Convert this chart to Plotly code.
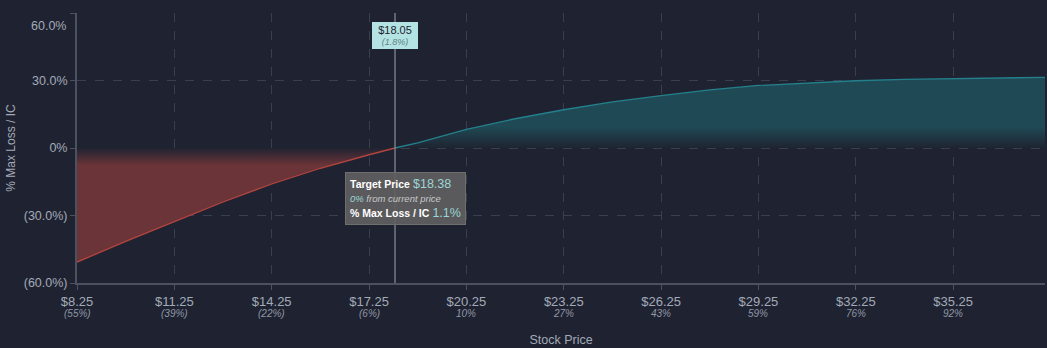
import plotly.graph_objects as go

# ---- data ----
loss_x = [8.25, 9.75, 11.25, 12.75, 14.25, 15.75, 17.25, 18.05]
loss_y = [-50.7, -41.5, -32.7, -24.0, -16.0, -9.0, -3.0, 0.0]
gain_x = [18.05, 18.75, 20.25, 21.75, 23.25, 24.75, 26.25, 27.75, 29.25, 30.75, 32.25, 33.75, 35.25, 36.75, 38.08]
gain_y = [0.0, 2.3, 8.3, 13.0, 17.0, 20.5, 23.3, 25.8, 27.8, 29.0, 29.9, 30.5, 30.9, 31.2, 31.4]

x_ticks = [8.25, 11.25, 14.25, 17.25, 20.25, 23.25, 26.25, 29.25, 32.25, 35.25]
x_tick_main = ["$8.25", "$11.25", "$14.25", "$17.25", "$20.25", "$23.25", "$26.25", "$29.25", "$32.25", "$35.25"]
x_tick_sub = ["(55%)", "(39%)", "(22%)", "(6%)", "10%", "27%", "43%", "59%", "76%", "92%"]
y_ticks = [60, 30, 0, -30, -60]
y_tick_labels = ["60.0%", "30.0%", "0%", "(30.0%)", "(60.0%)"]

current_price = 18.05
current_change = "(1.8%)"
target_price = "$18.38"
target_change = "0%"
target_value = "1.1%"

BG = "#1f2331"
GRID = "#3a3f4f"
TXT = "#a3aab8"
FONT = "Liberation Sans, Arial, sans-serif"

ML, MR, MT, MB = 77, 2, 13, 65
W, H = 1047, 348
PW, PH = W - ML - MR, H - MT - MB

fig = go.Figure()

fig.add_trace(go.Scatter(
    x=loss_x, y=loss_y, mode="lines",
    line=dict(color="#b3443f", width=1.3),
    fill="tozeroy",
    fillgradient=dict(type="vertical",
                      colorscale=[[0, "rgba(31,35,49,1)"], [1, "rgba(106,52,56,1)"]],
                      start=0, stop=-7.5),
    hoverinfo="skip", showlegend=False,
))
fig.add_trace(go.Scatter(
    x=gain_x, y=gain_y, mode="lines",
    line=dict(color="#23808c", width=1.3),
    fill="tozeroy",
    fillgradient=dict(type="vertical",
                      colorscale=[[0, "rgba(31,35,49,1)"], [1, "rgba(31,74,85,1)"]],
                      start=0, stop=9.5),
    hoverinfo="skip", showlegend=False,
))

fig.update_layout(
    width=W, height=H,
    margin=dict(l=ML, r=MR, t=MT, b=MB),
    paper_bgcolor=BG, plot_bgcolor=BG,
    font=dict(family=FONT, color=TXT, size=12),
    xaxis=dict(
        range=[8.25, 38.08], tickvals=x_ticks, ticktext=x_tick_main,
        showgrid=True, gridcolor=GRID, griddash="dash", gridwidth=1,
        showline=True, linecolor="#4c5160", linewidth=2,
        ticks="outside", ticklen=5, tickcolor="#4c5160",
        tickfont=dict(size=13, color=TXT),
        title=dict(text="Stock Price", font=dict(size=12.5, color=TXT), standoff=28),
        zeroline=False, fixedrange=True,
    ),
    yaxis=dict(
        range=[-60, 60], tickvals=y_ticks,
        ticktext=[""] + y_tick_labels[1:],
        showgrid=True, gridcolor=GRID, griddash="dash", gridwidth=1,
        showline=True, linecolor="#4c5160", linewidth=2,
        ticks="outside", ticklen=5, tickcolor="#4c5160",
        tickfont=dict(size=12.5, color=TXT),
        title=dict(text="% Max Loss / IC", font=dict(size=12, color=TXT), standoff=6),
        zeroline=False, fixedrange=True,
    ),
)

# sub tick labels (percent from current price)
for xv, s in zip(x_ticks, x_tick_sub):
    fig.add_annotation(x=xv, xref="x", y=0, yref="paper", text=f"<i>{s}</i>",
                       showarrow=False, yanchor="top", yshift=-23,
                       font=dict(size=10, color="#8f97a6"))

# top y label pushed down like reference
fig.add_annotation(x=0, xref="paper", y=60, yref="y", text=y_tick_labels[0],
                   showarrow=False, xanchor="right", yanchor="top", xshift=-9, yshift=-4,
                   font=dict(size=12.5, color=TXT))

# current price vertical line
fig.add_shape(type="line", x0=current_price, x1=current_price, y0=-60, y1=60,
              xref="x", yref="y", line=dict(color="#8a909c", width=1.2))
fig.add_annotation(x=current_price, y=60, xref="x", yref="y",
                   text=f"<span style='font-size:11px'>${current_price:.2f}</span><br>"
                        f"<i><span style='font-size:9px;color:#5f8585'>{current_change}</span></i>",
                   showarrow=False, yanchor="top", yshift=-9,
                   width=41, height=22,
                   bgcolor="#b3e3e2", bordercolor="#b3e3e2", borderpad=1.5,
                   font=dict(color="#1f2331", size=9))

# tooltip box
fig.add_annotation(x=(345 - ML) / PW, y=1 - (172 - MT) / PH, xref="paper", yref="paper",
                   text=(f"<span style='color:#ffffff;font-size:10.5px'><b>Target Price</b></span> "
                         f"<span style='color:#9ad6d6;font-size:12.5px'>{target_price}</span><br>"
                         f"<i><span style='font-size:9.5px;color:#9ad6d6'>{target_change}</span>"
                         f"<span style='font-size:9.5px;color:#c8c8c8'> from current price</span></i><br>"
                         f"<span style='color:#ffffff;font-size:10.5px'><b>% Max Loss / IC</b></span> "
                         f"<span style='color:#9ad6d6;font-size:12.5px'>{target_value}</span>"),
                   showarrow=False, align="left", xanchor="left", yanchor="top",
                   bgcolor="rgba(95,95,95,0.92)", bordercolor="rgba(110,110,110,1)", borderwidth=1,
                   borderpad=4, font=dict(size=11))

fig.write_html("out.html")
